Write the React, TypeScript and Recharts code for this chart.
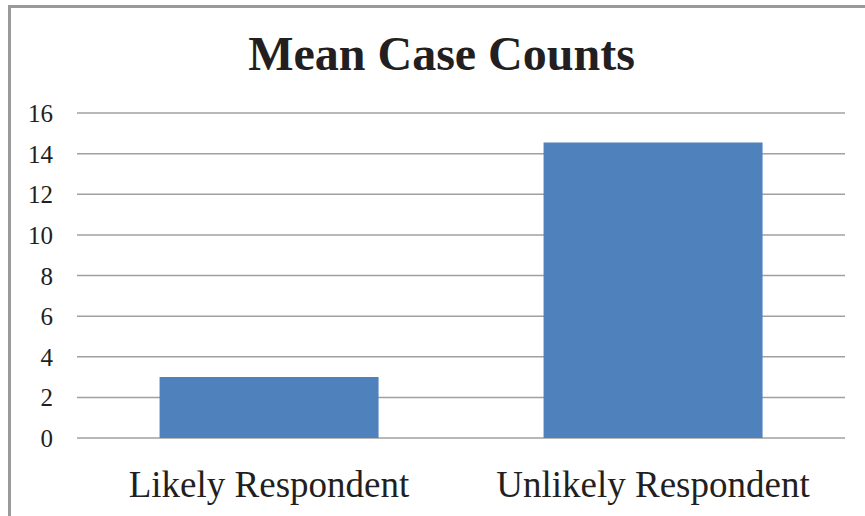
import * as React from "react";
import { BarChart, Bar, XAxis, YAxis, CartesianGrid } from "recharts";

const categories = ["Likely Respondent", "Unlikely Respondent"];
const meanCaseCounts = [3.0, 14.55];
const yTicks = [0, 2, 4, 6, 8, 10, 12, 14, 16];

const FONT = "'Liberation Serif', 'Times New Roman', serif";
const TEXT_COLOR = "#231f20";
const GRID_COLOR = "#a0a0a0";
const BAR_COLOR = "#4f81bd";

const data = categories.map((name, i) => ({ name, value: meanCaseCounts[i] }));

function YTick(props: any) {
  const { x, y, payload } = props;
  return (
    <text
      x={x}
      y={y}
      dy={9}
      textAnchor="end"
      style={{ fontFamily: FONT, fontSize: 25, fill: TEXT_COLOR }}
    >
      {payload.value}
    </text>
  );
}

function XTick(props: any) {
  const { x, y, payload } = props;
  return (
    <text
      x={x}
      y={y}
      dy={59}
      textAnchor="middle"
      style={{ fontFamily: FONT, fontSize: 37, fill: TEXT_COLOR }}
    >
      {payload.value}
    </text>
  );
}

export default function App() {
  return (
    <div
      style={{
        position: "fixed",
        left: 0,
        top: 0,
        width: 865,
        height: 516,
        background: "#fff",
        overflow: "hidden",
        fontFamily: FONT,
      }}
    >
      {/* chart frame: only the left and top edges are in view */}
      <div
        style={{
          position: "absolute",
          left: 8,
          top: 5,
          width: 900,
          height: 600,
          borderLeft: "3px solid #9a9a9a",
          borderTop: "3px solid #9a9a9a",
        }}
      />
      <div
        style={{
          position: "absolute",
          left: 0,
          width: 883,
          top: 24,
          textAlign: "center",
          fontSize: 48,
          fontWeight: "bold",
          color: TEXT_COLOR,
          lineHeight: "60px",
        }}
      >
        Mean Case Counts
      </div>
      <BarChart
        width={865}
        height={516}
        data={data}
        margin={{ top: 113, right: 20, left: 17, bottom: 0 }}
        barCategoryGap="21.5%"
        style={{ position: "absolute", left: 0, top: 0 }}
      >
        <CartesianGrid
          horizontal
          vertical={false}
          stroke={GRID_COLOR}
          strokeWidth={1.5}
        />
        <YAxis
          type="number"
          domain={[0, 16]}
          ticks={yTicks}
          width={60}
          axisLine={false}
          tickLine={false}
          tickSize={0}
          tickMargin={24}
          tick={<YTick />}
        />
        <XAxis
          dataKey="name"
          height={78}
          axisLine={false}
          tickLine={false}
          tickSize={0}
          tickMargin={0}
          tick={<XTick />}
        />
        <Bar dataKey="value" fill={BAR_COLOR} isAnimationActive={false} />
      </BarChart>
    </div>
  );
}
